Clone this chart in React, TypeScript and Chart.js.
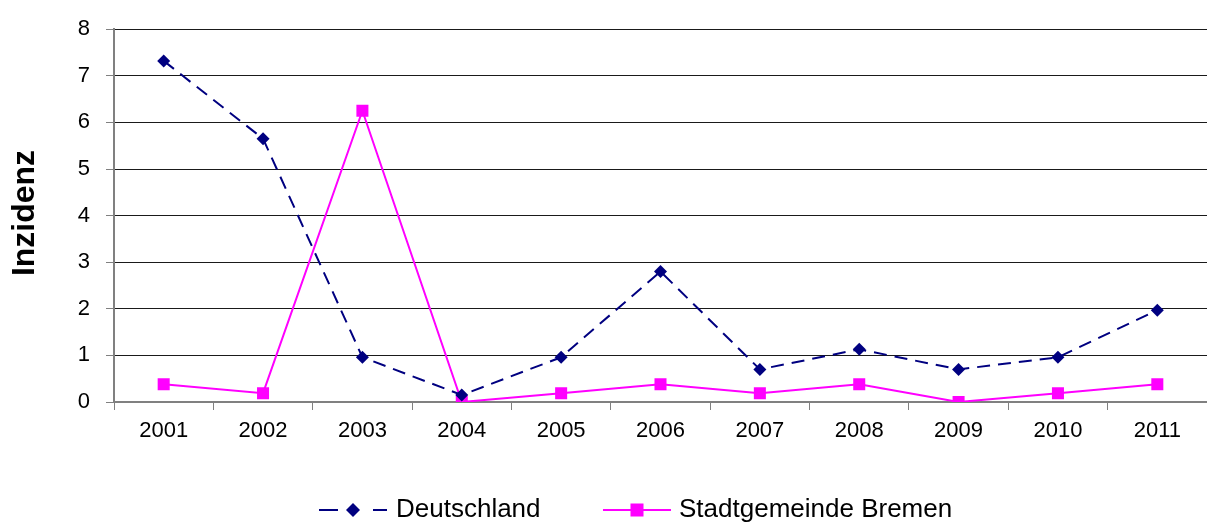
import React, { useEffect, useRef } from "react";
import { Chart, registerables } from "chart.js";

Chart.register(...registerables);

const years = ["2001", "2002", "2003", "2004", "2005", "2006", "2007", "2008", "2009", "2010", "2011"];
const deutschland = [7.32, 5.65, 0.96, 0.15, 0.96, 2.8, 0.7, 1.13, 0.7, 0.96, 1.97];
const bremen = [0.38, 0.19, 6.25, 0, 0.19, 0.38, 0.19, 0.38, 0, 0.19, 0.38];
const yTicks = [0, 1, 2, 3, 4, 5, 6, 7, 8];
const seriesNames = ["Deutschland", "Stadtgemeinde Bremen"];
const yTitle = "Inzidenz";

const FONT = "'Liberation Sans', Arial, sans-serif";

const overlayPlugin = {
  id: "overlay",
  afterDraw(chart: any) {
    const ctx = chart.ctx;
    ctx.save();
    // y title
    ctx.fillStyle = "#000";
    ctx.font = `bold 32px ${FONT}`;
    ctx.textAlign = "center";
    ctx.textBaseline = "middle";
    ctx.translate(25, 213);
    ctx.rotate(-Math.PI / 2);
    ctx.fillText(yTitle, 0, 0);
    ctx.restore();

    // legend
    ctx.save();
    const ly = 510;
    ctx.font = `26px ${FONT}`;
    ctx.textBaseline = "middle";
    ctx.textAlign = "left";
    // item 1
    ctx.strokeStyle = "#000080";
    ctx.lineWidth = 2;
    ctx.beginPath();
    ctx.moveTo(319, ly);
    ctx.lineTo(338, ly);
    ctx.moveTo(373, ly);
    ctx.lineTo(387, ly);
    ctx.stroke();
    ctx.fillStyle = "#000080";
    ctx.beginPath();
    ctx.moveTo(353, ly - 7);
    ctx.lineTo(360, ly);
    ctx.lineTo(353, ly + 7);
    ctx.lineTo(346, ly);
    ctx.closePath();
    ctx.fill();
    ctx.fillStyle = "#000";
    ctx.fillText(seriesNames[0], 396, ly);
    // item 2
    ctx.strokeStyle = "#FF00FF";
    ctx.beginPath();
    ctx.moveTo(603, ly);
    ctx.lineTo(671, ly);
    ctx.stroke();
    ctx.fillStyle = "#FF00FF";
    ctx.fillRect(637 - 6.5, ly - 6.5, 13, 13);
    ctx.fillStyle = "#000";
    ctx.fillText(seriesNames[1], 679, ly);
    ctx.restore();
  },
};

export default function App() {
  const ref = useRef<HTMLCanvasElement>(null);
  useEffect(() => {
    if (!ref.current) return;
    const chart = new Chart(ref.current, {
      type: "line",
      data: {
        labels: years,
        datasets: [
          {
            label: seriesNames[0],
            data: deutschland,
            borderColor: "#000080",
            backgroundColor: "#000080",
            borderWidth: 2,
            borderDash: [13, 8],
            pointStyle: "rectRot",
            pointRadius: 6.5,
            pointBorderWidth: 0,
            tension: 0,
          },
          {
            label: seriesNames[1],
            data: bremen,
            borderColor: "#FF00FF",
            backgroundColor: "#FF00FF",
            borderWidth: 2,
            pointStyle: "rect",
            pointRadius: 8.5,
            pointBorderWidth: 0,
            tension: 0,
          },
        ],
      },
      options: {
        animation: false,
        responsive: false,
        maintainAspectRatio: false,
        layout: { autoPadding: false, padding: { top: 28, right: 0, left: 0, bottom: 0 } },
        plugins: { legend: { display: false }, tooltip: { enabled: false } },
        scales: {
          x: {
            offset: true,
            grid: {
              offset: true,
              drawOnChartArea: false,
              drawTicks: true,
              tickLength: 8,
              tickColor: "#808080",
              tickWidth: 1,
            },
            border: { color: "#808080", width: 2 },
            ticks: { color: "#000", font: { family: FONT, size: 22 }, padding: 8, maxRotation: 0 },
            afterFit: (s: any) => {
              s.height = 121;
            },
          },
          y: {
            min: 0,
            max: 8,
            afterBuildTicks: (s: any) => {
              s.ticks = yTicks.map((v) => ({ value: v }));
            },
            grid: { color: "#1a1a1a", lineWidth: 1, tickLength: 8, tickColor: "#808080" },
            border: { color: "#808080", width: 2 },
            ticks: { color: "#000", font: { family: FONT, size: 22 }, padding: 16 },
            afterFit: (s: any) => {
              s.width = 114;
            },
          },
        },
      },
      plugins: [overlayPlugin],
    });
    return () => chart.destroy();
  }, []);
  return (
    <div style={{ position: "fixed", left: 0, top: 0, width: 1207, height: 523, background: "#fff" }}>
      <canvas ref={ref} width={1207} height={523} style={{ width: 1207, height: 523 }} />
    </div>
  );
}
